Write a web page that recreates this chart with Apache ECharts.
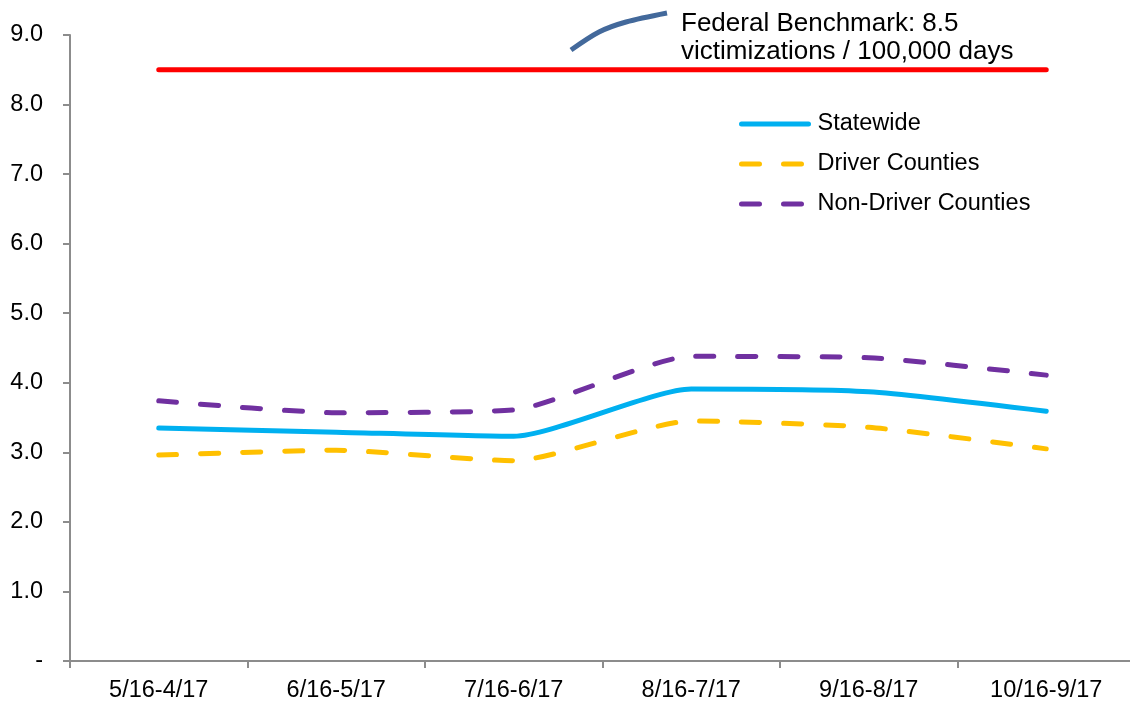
<!DOCTYPE html>
<html>
<head>
<meta charset="utf-8">
<title>Victimizations per 100,000 days</title>
<script src="https://cdn.jsdelivr.net/npm/echarts@6/dist/echarts.min.js"></script>
<style>
  html, body { margin: 0; padding: 0; background: #fff; }
  #chart { width: 1130px; height: 703px; }
</style>
</head>
<body>
<div id="chart"></div>
<script>
// 12-month rolling periods
const periods = ['5/16-4/17', '6/16-5/17', '7/16-6/17', '8/16-7/17', '9/16-8/17', '10/16-9/17'];

// victimizations per 100,000 days
const statewide = [3.35, 3.29, 3.23, 3.91, 3.87, 3.59];
const driverCounties = [2.96, 3.03, 2.88, 3.45, 3.36, 3.05];
const nonDriverCounties = [3.74, 3.57, 3.61, 4.38, 4.36, 4.11];
const federalBenchmark = [8.5, 8.5, 8.5, 8.5, 8.5, 8.5];

// y axis ticks
const yMin = 0;
const yMax = 9;
const yStep = 1;

const font = 'Liberation Sans, Arial, sans-serif';
const axisGrey = '#8c8c8c';
const dashed = [18, 24];

const chart = echarts.init(document.getElementById('chart'));

const option = {
  animation: false,
  grid: {
    left: 70,
    top: 35,
    width: 1065,
    bottom: 42,
    outerBoundsMode: 'none'
  },
  legend: {
    orient: 'vertical',
    left: 739,
    top: 112,
    padding: 0,
    itemWidth: 67,
    itemHeight: 20,
    itemGap: 16,
    data: ['Statewide', 'Driver Counties', 'Non-Driver Counties'],
    itemStyle: { opacity: 0 },
    lineStyle: { width: 5, cap: 'round' },
    textStyle: {
      fontFamily: font,
      fontSize: 23.5,
      color: '#000',
      padding: [0, 0, 0, 4]
    }
  },
  xAxis: {
    type: 'category',
    data: periods,
    boundaryGap: true,
    axisLine: { lineStyle: { color: axisGrey, width: 2 } },
    axisTick: { show: true, length: 7, lineStyle: { color: axisGrey, width: 2 } },
    axisLabel: {
      margin: 18,
      fontFamily: font,
      fontSize: 23.5,
      color: '#000'
    },
    splitLine: { show: false }
  },
  yAxis: {
    type: 'value',
    min: yMin,
    max: yMax,
    interval: yStep,
    axisLine: { show: true, lineStyle: { color: axisGrey, width: 2 } },
    axisTick: { show: true, length: 7, lineStyle: { color: axisGrey, width: 2 } },
    axisLabel: {
      margin: 27,
      fontFamily: font,
      fontSize: 23.5,
      color: '#000',
      formatter: function (v) {
        return v === 0 ? '-' : v.toFixed(1);
      }
    },
    splitLine: { show: false }
  },
  series: [
    {
      name: 'Federal Benchmark',
      type: 'line',
      data: federalBenchmark,
      symbol: 'none',
      lineStyle: { color: '#ff0000', width: 5, cap: 'round' },
      itemStyle: { color: '#ff0000' },
      z: 1
    },
    {
      name: 'Statewide',
      type: 'line',
      data: statewide,
      smooth: 0.2,
      symbol: 'none',
      lineStyle: { color: '#00b0f0', width: 5, cap: 'round' },
      itemStyle: { color: '#00b0f0' },
      z: 3
    },
    {
      name: 'Driver Counties',
      type: 'line',
      data: driverCounties,
      smooth: 0.2,
      symbol: 'none',
      lineStyle: { color: '#ffc000', width: 5, type: dashed, cap: 'round' },
      itemStyle: { color: '#ffc000' },
      z: 2
    },
    {
      name: 'Non-Driver Counties',
      type: 'line',
      data: nonDriverCounties,
      smooth: 0.2,
      symbol: 'none',
      lineStyle: { color: '#7030a0', width: 5, type: dashed, cap: 'round' },
      itemStyle: { color: '#7030a0' },
      z: 2
    }
  ],
  graphic: [
    {
      // callout connector for the benchmark note
      type: 'polyline',
      shape: { points: [[571, 50], [599, 32], [626, 22], [667, 13]], smooth: 0.3 },
      style: { stroke: '#43699b', lineWidth: 5, fill: null },
      z: 10
    },
    {
      type: 'text',
      left: 681,
      top: 10,
      style: {
        text: 'Federal Benchmark: 8.5\nvictimizations / 100,000 days',
        font: '26px ' + font,
        fill: '#000',
        lineHeight: 28
      },
      z: 10
    }
  ]
};

chart.setOption(option);

window.addEventListener('resize', function () {
  chart.resize();
});
</script>
</body>
</html>
